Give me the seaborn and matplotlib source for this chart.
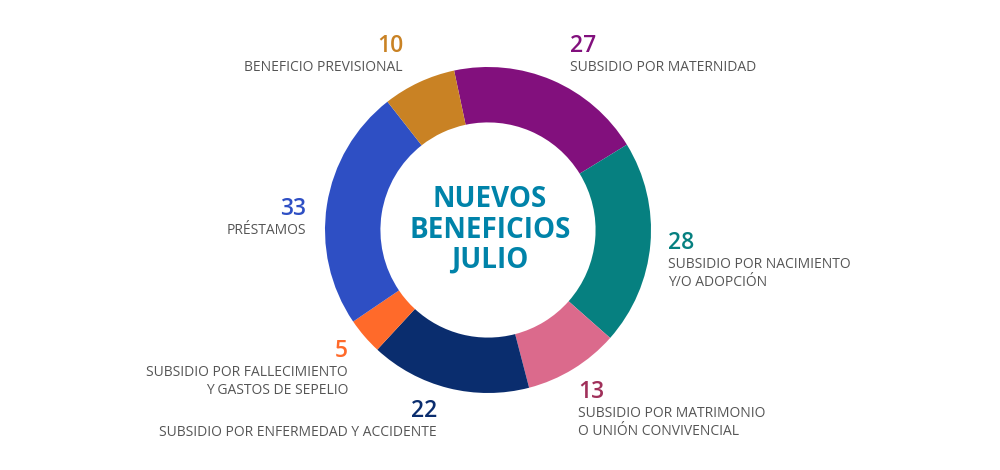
import matplotlib
matplotlib.use("Agg")
import matplotlib.pyplot as plt
import seaborn as sns

sns.set_theme(style="white")
plt.rcParams['font.family'] = ['Open Sans', 'DejaVu Sans']

categories = ["SUBSIDIO POR MATERNIDAD",
              "SUBSIDIO POR NACIMIENTO\nY/O ADOPCIÓN",
              "SUBSIDIO POR MATRIMONIO\nO UNIÓN CONVIVENCIAL",
              "SUBSIDIO POR ENFERMEDAD Y ACCIDENTE",
              "SUBSIDIO POR FALLECIMIENTO\nY GASTOS DE SEPELIO",
              "PRÉSTAMOS",
              "BENEFICIO PREVISIONAL"]
values = [27, 28, 13, 22, 5, 33, 10]
slice_colors = ["#82107D", "#068080", "#DB6A8C", "#0A2D6E", "#FF6A2A", "#2E4FC4", "#C98224"]
number_colors = ["#82107D", "#068080", "#A0305A", "#0A2D6E", "#FF6A2A", "#2E4FC4", "#C98224"]
center_title = "NUEVOS\nBENEFICIOS\nJULIO"

W, H = 1000, 470
fig = plt.figure(figsize=(W / 100, H / 100), dpi=100)
ax = fig.add_axes([0, 0, 1, 1])

cx, cy, R = 488, H - 230, 163
ax.pie(values, colors=slice_colors, startangle=102, counterclock=False,
       center=(cx, cy), radius=R, wedgeprops=dict(width=R * 0.34, linewidth=0),
       frame=True)
ax.set_xlim(0, W)
ax.set_ylim(0, H)
ax.set_aspect('equal')
ax.axis('off')

ax.text(cx + 2, cy, center_title, ha='center', va='center', fontsize=20,
        fontweight='bold', color="#0083A9", linespacing=1.05)

# label layout: (x, number baseline, ha)
layout = [(570, 52, 'left'),
          (668, 249, 'left'),
          (578, 398, 'left'),
          (437, 417, 'right'),
          (348, 357, 'right'),
          (306, 215, 'right'),
          (403, 52, 'right')]

for cat, val, col, (x, yb, ha) in zip(categories, values, number_colors, layout):
    ax.text(x, H - yb, str(val), ha=ha, va='baseline', fontsize=16.5,
            fontweight='semibold', color=col)
    for i, line in enumerate(cat.split("\n")):
        ax.text(x, H - (yb + 19 + 18 * i), line, ha=ha, va='baseline',
                fontsize=10.0, color="#555555")

fig.savefig("out.png", dpi=100, facecolor="white")
